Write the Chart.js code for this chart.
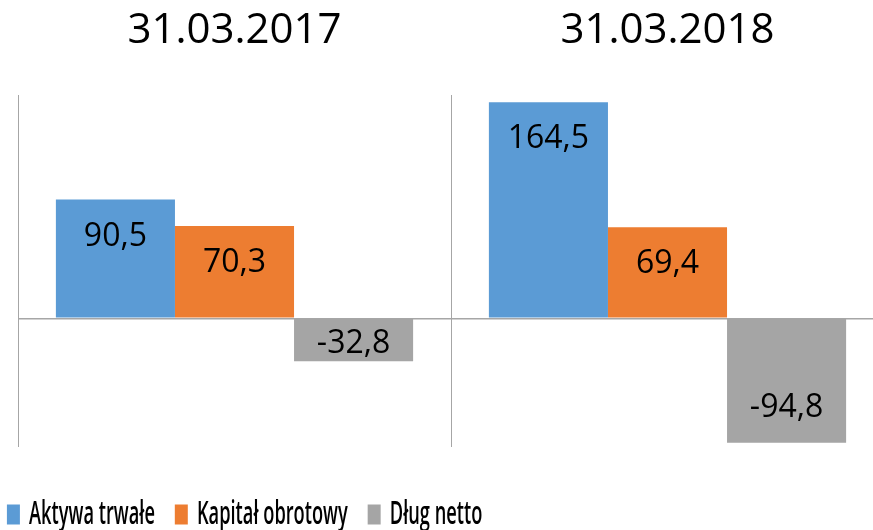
<!DOCTYPE html>
<html lang="pl">
<head>
<meta charset="utf-8">
<title>Aktywa trwałe / Kapitał obrotowy / Dług netto</title>
<script src="https://cdn.jsdelivr.net/npm/chart.js@4/dist/chart.umd.min.js"></script>
<style>
  html, body { margin: 0; padding: 0; background: #fff; overflow: hidden; }
  body { width: 873px; height: 530px; position: relative; }
  #wrap { position: absolute; left: -13px; top: 0; width: 897px; height: 541px; }
</style>
</head>
<body>
<div id="wrap"><canvas id="chart"></canvas></div>
<script>
/* ── Dane ── */
const kategorie       = ["31.03.2017", "31.03.2018"];
const serie           = ["Aktywa trwałe", "Kapitał obrotowy", "Dług netto"];
const aktywaTrwale    = [90.5, 164.5];
const kapitalObrotowy = [70.3, 69.4];
const dlugNetto       = [-32.8, -94.8];

/* ── Styl ── */
const kolory   = ["#5b9bd5", "#ed7d31", "#a5a5a5"];
const linia    = "#a6a6a6";
const czcionka = "'Open Sans', 'Liberation Sans', sans-serif";
const SX = 0.553;   // legenda w oryginale jest mocno zwężona

/* ── Etykiety wartości wewnątrz słupków ── */
const etykiety = {
  id: "etykiety",
  afterDatasetsDraw(chart) {
    const { ctx } = chart;
    ctx.save();
    ctx.font = "32px " + czcionka;
    ctx.fillStyle = "#000";
    ctx.textAlign = "center";
    ctx.textBaseline = "middle";
    chart.data.datasets.forEach((ds, i) => {
      chart.getDatasetMeta(i).data.forEach((bar, j) => {
        const v = ds.data[j];
        const y = v >= 0 ? bar.y + 37 : Math.max(bar.base + 25, bar.y - 35);
        ctx.fillText(v.toFixed(1).replace(".", ","), bar.x, y);
      });
    });
    ctx.restore();
  },
};

/* ── Zwężona legenda (skala w poziomie wokół x = 0) ── */
const waskaLegenda = {
  id: "waskaLegenda",
  afterInit(chart) {
    const lg = chart.legend;
    if (!lg || lg._waska) return;
    const dopasuj = lg.fit.bind(lg);
    const rysuj   = lg.draw.bind(lg);
    // szerokość liczona przed zwężeniem, żeby wszystko zmieściło się w jednym wierszu
    lg.fit = () => {
      lg.maxWidth = lg.maxWidth / SX;
      dopasuj();
    };
    lg.draw = (area) => {
      const ctx = chart.ctx;
      const prawa = lg.right;
      lg.right = prawa / SX;
      ctx.save();
      ctx.scale(SX, 1);
      rysuj(area);
      ctx.restore();
      lg.right = prawa;
    };
    lg._waska = true;
  },
};

/* ── Wykres ── */
const wartosci = [aktywaTrwale, kapitalObrotowy, dlugNetto];

new Chart(document.getElementById("chart"), {
  type: "bar",
  data: {
    labels: kategorie,
    datasets: serie.map((nazwa, i) => ({
      label: nazwa,
      data: wartosci[i],
      backgroundColor: kolory[i],
      borderWidth: 0,
      categoryPercentage: 0.825,
      barPercentage: 1.0,
    })),
  },
  options: {
    animation: false,
    responsive: true,
    maintainAspectRatio: false,
    layout: { padding: 0 },
    plugins: {
      tooltip: { enabled: false },
      legend: {
        position: "bottom",
        align: "start",
        labels: {
          boxWidth: 23.5,
          boxHeight: 20,
          padding: 36,
          color: "#000",
          font: { size: 33, weight: "600", family: czcionka },
        },
      },
    },
    scales: {
      x: {
        position: "top",
        afterFit: s => { s.height = 95; },
        border: { display: false },
        grid: { offset: true, drawTicks: false, color: linia, lineWidth: 1 },
        ticks: { color: "#000", padding: 39, font: { size: 42, family: czcionka } },
      },
      odstep: {
        axis: "x",
        type: "linear",
        position: "bottom",
        afterFit: s => { s.height = 15; },
        border: { display: false },
        grid: { display: false },
        ticks: { display: false },
      },
      y: {
        min: -98,
        max: 170,
        afterFit: s => { s.width = 31; },
        border: { display: false },
        ticks: { display: false, stepSize: 10 },
        grid: {
          drawTicks: false,
          color: c => (c.tick && c.tick.value === 0 ? linia : "rgba(0,0,0,0)"),
          lineWidth: c => (c.tick && c.tick.value === 0 ? 1.5 : 0),
        },
      },
    },
  },
  plugins: [etykiety, waskaLegenda],
});
</script>
</body>
</html>
